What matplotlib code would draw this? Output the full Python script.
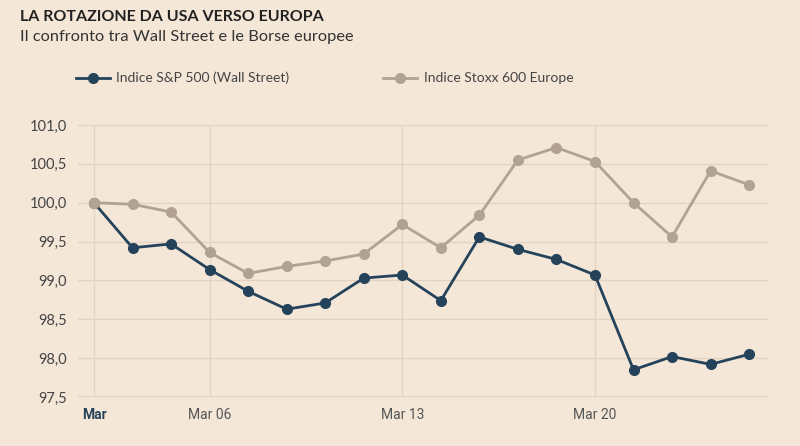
import matplotlib
matplotlib.use("Agg")
import matplotlib.pyplot as plt
from matplotlib.lines import Line2D

# Data
tick_labels = ["Mar", "Mar 06", "Mar 13", "Mar 20"]
tick_positions = [0, 3, 8, 13]
sp500 = [100.0, 99.42, 99.47, 99.14, 98.86, 98.63, 98.71, 99.03, 99.07, 98.74,
         99.56, 99.40, 99.27, 99.07, 97.85, 98.02, 97.92, 98.05]
stoxx600 = [100.0, 99.98, 99.88, 99.36, 99.09, 99.18, 99.25, 99.34, 99.72, 99.42,
            99.84, 100.55, 100.71, 100.53, 100.0, 99.56, 100.41, 100.23]
series_names = ["Indice S&P 500 (Wall Street)", "Indice Stoxx 600 Europe"]
yticks = [97.5, 98.0, 98.5, 99.0, 99.5, 100.0, 100.5, 101.0]

bg = "#f5e7d8"
c_sp = "#24435a"
c_eu = "#b1a293"
grid_c = "#e3d3c0"
txt = "#444444"

plt.rcParams['font.family'] = ['Lato', 'DejaVu Sans']

fig = plt.figure(figsize=(8, 4.46), dpi=100, facecolor=bg)
ax = fig.add_axes([78/800, 1-397/446, (768-78)/800, (397-125)/446])
ax.set_facecolor(bg)

x = list(range(len(sp500)))
ax.plot(x, sp500, color=c_sp, lw=2, marker='o', ms=7, zorder=3)
ax.plot(x, stoxx600, color=c_eu, lw=2, marker='o', ms=7, zorder=4)

ax.set_xlim(-0.415, 17.49)
ax.set_ylim(97.5, 101.0)
ax.set_yticks(yticks)
ax.set_yticklabels([f"{v:.1f}".replace('.', ',') for v in yticks], fontsize=10.5, color=txt)
ax.set_xticks(tick_positions)
ax.set_xticklabels(tick_labels, fontsize=10, color="#555555", family=['Roboto', 'DejaVu Sans'])
ax.get_xticklabels()[0].set_fontweight('bold')
ax.get_xticklabels()[0].set_color(c_sp)
ax.tick_params(axis='both', length=0, pad=8)

ax.grid(True, color=grid_c, lw=1)
for s in ax.spines.values():
    s.set_visible(False)
ax.axhline(97.5, color="#dcc9b4", lw=1.2, zorder=1)

fig.text(20/800, 1-17/446, "LA ROTAZIONE DA USA VERSO EUROPA", fontsize=11.5,
         fontweight='bold', color="#222222", va='center')
fig.text(20/800, 1-37/446, "Il confronto tra Wall Street e le Borse europee", fontsize=11.8,
         color="#333333", va='center')

# Legend
for lx, tx, col, name in [(76, 116, c_sp, series_names[0]), (383, 424, c_eu, series_names[1])]:
    fig.add_artist(Line2D([lx/800, (lx+34)/800], [1-78/446, 1-78/446], color=col, lw=2,
                          transform=fig.transFigure))
    fig.add_artist(Line2D([(lx+17)/800], [1-78/446], color=col, marker='o', ms=7,
                          transform=fig.transFigure))
    fig.text(tx/800, 1-78/446, name, fontsize=10, color="#444444", va='center')

fig.savefig("out.png", dpi=100, facecolor=bg)
